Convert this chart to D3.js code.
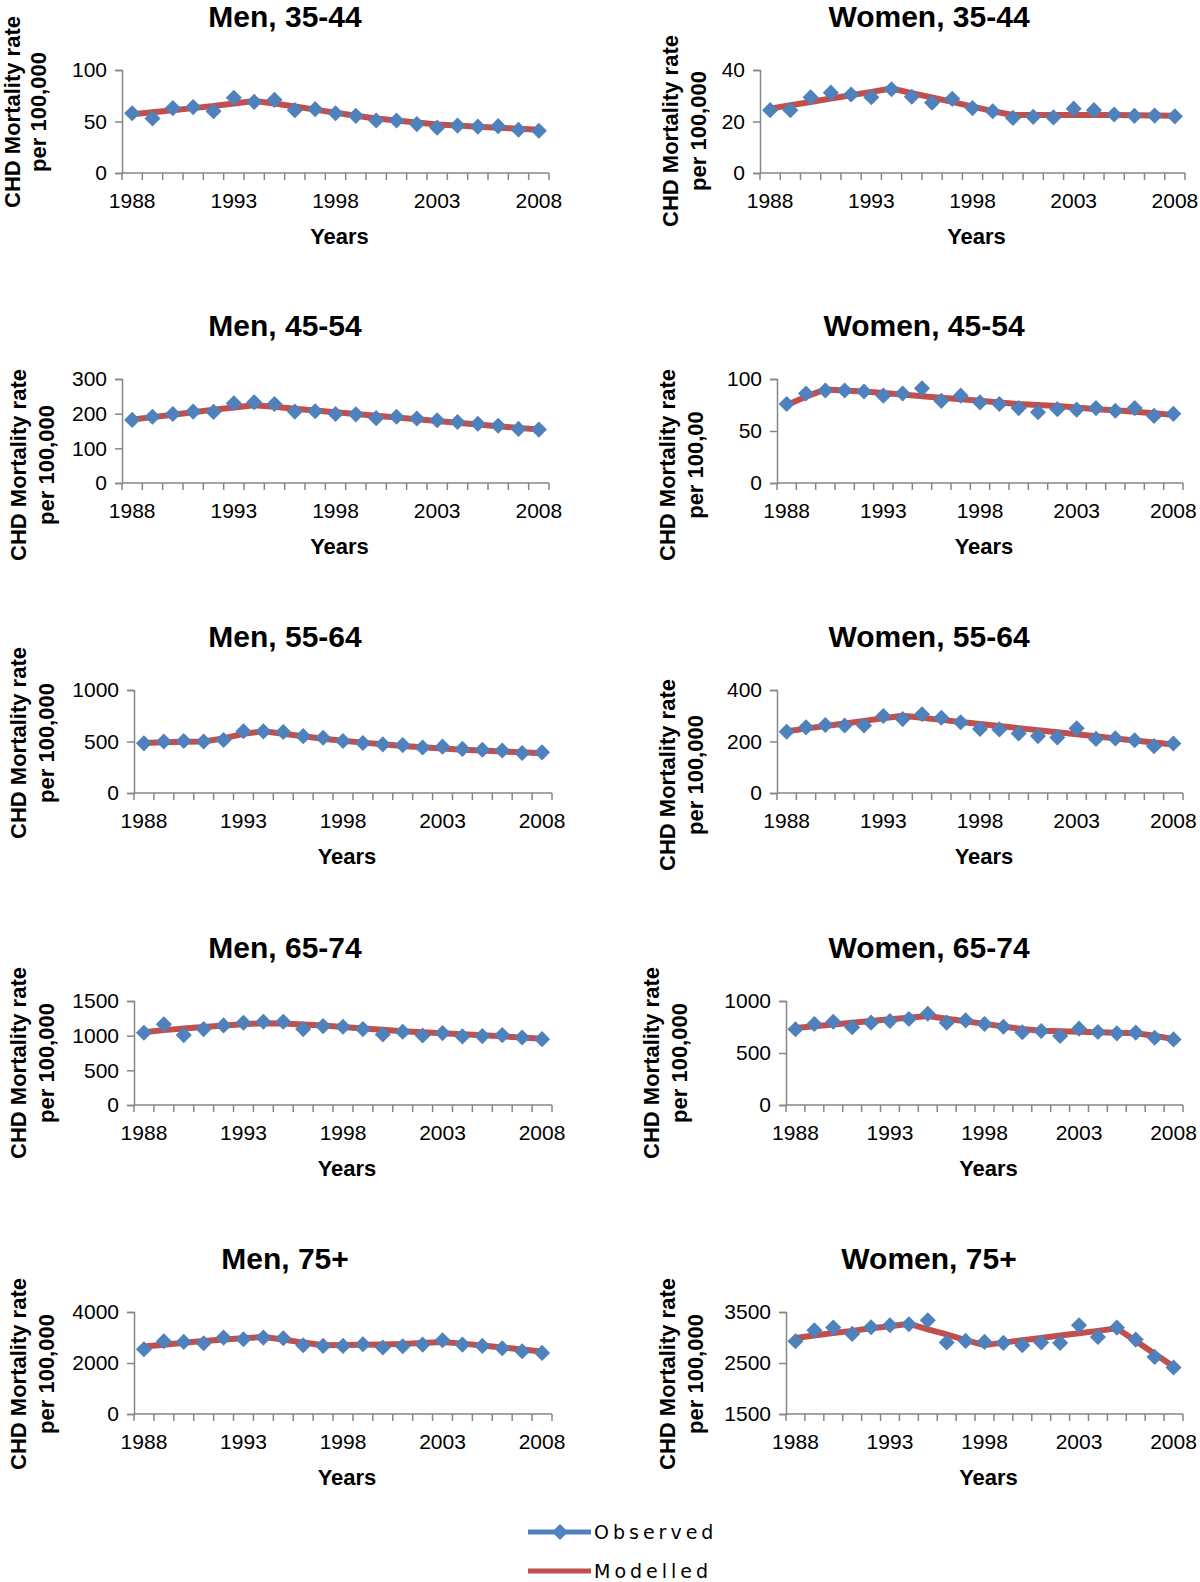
<!DOCTYPE html>
<html>
<head>
<meta charset="utf-8">
<title>CHD mortality, observed vs modelled</title>
<script src="https://d3js.org/d3.v7.min.js"></script>
<style>
body { margin: 0; background: #fff; }
text { font-family: "Liberation Sans", Arial, sans-serif; fill: #000; }
.title { font-size: 30px; font-weight: bold; }
.ylab { font-size: 22px; font-weight: bold; }
.xlab { font-size: 22px; font-weight: bold; }
.tick text { font-size: 21px; }
.legend text { font-size: 19px; letter-spacing: 4px; font-family: "DejaVu Sans", sans-serif; }
</style>
</head>
<body>
<svg width="1200" height="1582"></svg>
<script>
// categories
const years = [1988, 1989, 1990, 1991, 1992, 1993, 1994, 1995, 1996, 1997, 1998,
               1999, 2000, 2001, 2002, 2003, 2004, 2005, 2006, 2007, 2008];
const yearLabels = [1988, 1993, 1998, 2003, 2008];

const titles = ["Men, 35-44", "Women, 35-44", "Men, 45-54", "Women, 45-54",
                "Men, 55-64", "Women, 55-64", "Men, 65-74", "Women, 65-74",
                "Men, 75+", "Women, 75+"];
const perLabels = ["per 100,000", "per 100,000", "per 100,000", "per 100,00",
                   "per 100,000", "per 100,000", "per 100,000", "per 100,000",
                   "per 100,000", "per 100,000"];

// y tick values for each panel
const yTicks = [
  [0, 50, 100], [0, 20, 40],
  [0, 100, 200, 300], [0, 50, 100],
  [0, 500, 1000], [0, 200, 400],
  [0, 500, 1000, 1500], [0, 500, 1000],
  [0, 2000, 4000], [1500, 2500, 3500]
];

// observed rates
const obsMen3544 = [58, 53, 63, 64, 60, 73, 69, 71, 61, 62, 58, 55.5, 51, 51, 47.5, 44, 46, 45, 45.5, 42, 41];
const obsWomen3544 = [24.4, 24.4, 29.4, 31.2, 30.5, 29.4, 32.5, 29.6, 27.3, 28.8, 25.2, 24, 21.4, 21.8, 21.6, 25, 24.4, 22.7, 22.2, 22.3, 22];
const obsMen4554 = [182, 191, 199, 206, 205, 230, 233, 228, 206, 207, 199, 198, 187, 191, 186, 181, 176, 171, 165, 156, 154];
const obsWomen4554 = [76, 86, 89, 89, 88, 84, 86, 91, 79, 84, 77.5, 76, 72, 68, 71, 70.5, 72, 69.5, 72, 64.5, 66.5];
const obsMen5564 = [482, 500, 505, 500, 515, 600, 598, 592, 552, 537, 505, 485, 472, 465, 442, 450, 428, 420, 413, 388, 395];
const obsWomen5564 = [238, 255, 264, 262, 262, 299, 287, 306, 292, 275, 249, 247, 231, 221, 216, 251, 210, 212, 205, 182, 192];
const obsMen6574 = [1042, 1163, 1008, 1095, 1148, 1187, 1201, 1201, 1095, 1138, 1129, 1095, 1018, 1056, 1003, 1037, 989, 994, 1008, 974, 950];
const obsWomen6574 = [728, 779, 801, 747, 792, 808, 827, 878, 792, 814, 779, 753, 699, 712, 663, 734, 702, 689, 696, 647, 631];
const obsMen75 = [2541, 2853, 2827, 2775, 2997, 2932, 2997, 2971, 2697, 2671, 2671, 2736, 2606, 2658, 2723, 2893, 2723, 2671, 2580, 2463, 2397];
const obsWomen75 = [2927, 3142, 3194, 3070, 3200, 3239, 3259, 3337, 2901, 2933, 2914, 2894, 2849, 2901, 2894, 3239, 3011, 3194, 2959, 2620, 2412];

// modelled rates
const modMen3544 = [57, 59, 61, 63, 65, 67.5, 70, 67.5, 64.5, 61.5, 58.5, 55.5, 53, 51, 49, 47, 46, 45, 44, 43, 42];
const modWomen3544 = [25, 26.3, 27.6, 28.9, 30.2, 31.5, 32.8, 31, 29.3, 27.6, 25.8, 24, 22.5, 22.5, 22.5, 22.5, 22.5, 22.5, 22.4, 22.3, 22.2];
const modMen4554 = [183, 190, 197, 204, 211, 218, 224, 220, 214, 209, 204, 199, 194, 189, 184, 179, 174, 169, 164, 159, 154];
const modWomen4554 = [75, 83, 90, 89, 88, 86.5, 85, 83.5, 82, 80.5, 79, 77.5, 76, 75, 74, 72.5, 71, 70, 68.5, 67, 65.5];
const modMen5564 = [485, 492, 497, 500, 530, 575, 600, 575, 550, 527, 508, 489, 473, 457, 444, 431, 421, 412, 402, 396, 386];
const modWomen5564 = [240, 250, 260, 270, 280, 290, 300, 292, 284, 276, 268, 260, 252, 244, 236, 228, 220, 212, 204, 196, 188];
const modMen6574 = [1050, 1080, 1105, 1125, 1145, 1165, 1180, 1175, 1160, 1145, 1125, 1105, 1085, 1065, 1050, 1035, 1020, 1005, 990, 975, 955];
const modWomen6574 = [740, 757, 774, 791, 808, 825, 840, 855, 830, 805, 780, 755, 730, 715, 710, 705, 700, 695, 690, 665, 635];
const modMen75 = [2650, 2720, 2790, 2860, 2920, 2970, 3020, 2920, 2800, 2700, 2710, 2720, 2730, 2750, 2780, 2820, 2760, 2690, 2610, 2530, 2450];
const modWomen75 = [2990, 3040, 3090, 3130, 3180, 3220, 3270, 3160, 3060, 2950, 2850, 2900, 2945, 2990, 3040, 3085, 3130, 3180, 2930, 2680, 2430];

const observed = [obsMen3544, obsWomen3544, obsMen4554, obsWomen4554, obsMen5564,
                  obsWomen5564, obsMen6574, obsWomen6574, obsMen75, obsWomen75];
const modelled = [modMen3544, modWomen3544, modMen4554, modWomen4554, modMen5564,
                  modWomen5564, modMen6574, modWomen6574, modMen75, modWomen75];

// panel placement in the page (plot area edges, title and label positions)
const layout = [
  {left: 122, right: 549, top: 70,   bottom: 173,  tx: 285, labX: [12, 38],   labY: 112},
  {left: 760, right: 1185, top: 70,  bottom: 173,  tx: 929, labX: [670, 698], labY: 131},
  {left: 122, right: 549, top: 379,  bottom: 483,  tx: 285, labX: [18, 46],   labY: 465},
  {left: 777, right: 1183, top: 379, bottom: 483,  tx: 924, labX: [667, 695], labY: 465},
  {left: 134, right: 552, top: 690,  bottom: 793,  tx: 285, labX: [18, 46],   labY: 743},
  {left: 777, right: 1183, top: 690, bottom: 793,  tx: 929, labX: [667, 695], labY: 775},
  {left: 134, right: 552, top: 1001, bottom: 1105, tx: 285, labX: [18, 46],   labY: 1063},
  {left: 786, right: 1183, top: 1001, bottom: 1105, tx: 929, labX: [651, 679], labY: 1063},
  {left: 134, right: 552, top: 1312, bottom: 1414, tx: 285, labX: [18, 46],   labY: 1374},
  {left: 786, right: 1183, top: 1312, bottom: 1414, tx: 929, labX: [667, 695], labY: 1374}
];

const blue = "#4F81BD";
const red = "#C0504D";
const axisGrey = "#868686";

const svg = d3.select("svg");
const diamond = d3.symbol().type(d3.symbolSquare).size(130);

titles.forEach((title, i) => {
  const L = layout[i];
  const ticks = yTicks[i];

  const x = d3.scaleBand().domain(years).range([L.left, L.right]).padding(0);
  const y = d3.scaleLinear().domain([ticks[0], ticks[ticks.length - 1]]).range([L.bottom, L.top]);
  const cx = d => x(d) + x.bandwidth() / 2;

  const g = svg.append("g");

  // title
  g.append("text").attr("class", "title")
    .attr("x", L.tx).attr("y", L.top - 54).attr("dy", "0.35em")
    .attr("text-anchor", "middle").text(title);

  // y axis
  const yAxisG = g.append("g")
    .attr("transform", `translate(${L.left},0)`)
    .call(d3.axisLeft(y).tickValues(ticks).tickSize(7).tickPadding(8).tickFormat(d3.format("d")));
  yAxisG.select(".domain").attr("stroke", axisGrey).attr("stroke-width", 1.5);
  yAxisG.selectAll(".tick line").attr("stroke", axisGrey).attr("stroke-width", 1.5);
  yAxisG.selectAll(".tick text").attr("fill", "#000");

  // x axis: tick marks between categories, labels every 5 years
  g.append("line")
    .attr("x1", L.left).attr("x2", L.right)
    .attr("y1", L.bottom).attr("y2", L.bottom)
    .attr("stroke", axisGrey).attr("stroke-width", 1.5);
  g.selectAll("line.xtick").data(years.concat([null])).enter().append("line")
    .attr("class", "xtick")
    .attr("x1", d => d === null ? x.range()[1] : x(d))
    .attr("x2", d => d === null ? x.range()[1] : x(d))
    .attr("y1", L.bottom).attr("y2", L.bottom + 7)
    .attr("stroke", axisGrey).attr("stroke-width", 1.5);
  const xAxisG = g.append("g")
    .attr("transform", `translate(0,${L.bottom})`)
    .call(d3.axisBottom(x).tickValues(yearLabels).tickSize(0).tickPadding(20));
  xAxisG.select(".domain").remove();
  xAxisG.selectAll(".tick text").attr("fill", "#000");

  // axis titles
  g.append("text").attr("class", "xlab")
    .attr("x", (L.left + L.right) / 2 + 4).attr("y", L.bottom + 63).attr("dy", "0.35em")
    .attr("text-anchor", "middle").text("Years");
  g.append("text").attr("class", "ylab")
    .attr("transform", `translate(${L.labX[0]},${L.labY}) rotate(-90)`)
    .attr("dy", "0.35em").attr("text-anchor", "middle").text("CHD Mortality rate");
  g.append("text").attr("class", "ylab")
    .attr("transform", `translate(${L.labX[1]},${L.labY}) rotate(-90)`)
    .attr("dy", "0.35em").attr("text-anchor", "middle").text(perLabels[i]);

  // modelled line
  g.append("path")
    .datum(years.map((yr, k) => [yr, modelled[i][k]]))
    .attr("fill", "none").attr("stroke", red).attr("stroke-width", 6)
    .attr("stroke-linejoin", "round")
    .attr("d", d3.line().x(d => cx(d[0])).y(d => y(d[1])));

  // observed diamonds
  g.selectAll("path.obs").data(years.map((yr, k) => [yr, observed[i][k]]))
    .enter().append("path").attr("class", "obs")
    .attr("d", diamond)
    .attr("fill", blue)
    .attr("transform", d => `translate(${cx(d[0])},${y(d[1])}) rotate(45)`);
});

// legend
const legendItems = ["Observed", "Modelled"];
const legendColors = [blue, red];
const lg = svg.append("g").attr("class", "legend");
legendItems.forEach((name, i) => {
  const ly = 1532 + i * 39;
  lg.append("line").attr("x1", 528).attr("x2", 591).attr("y1", ly).attr("y2", ly)
    .attr("stroke", legendColors[i]).attr("stroke-width", 5);
  if (i === 0) {
    lg.append("path").attr("d", diamond)
      .attr("fill", blue)
      .attr("transform", `translate(560,${ly}) rotate(45)`);
  }
  lg.append("text").attr("x", 594).attr("y", ly).attr("dy", "0.35em").text(name);
});
</script>
</body>
</html>
